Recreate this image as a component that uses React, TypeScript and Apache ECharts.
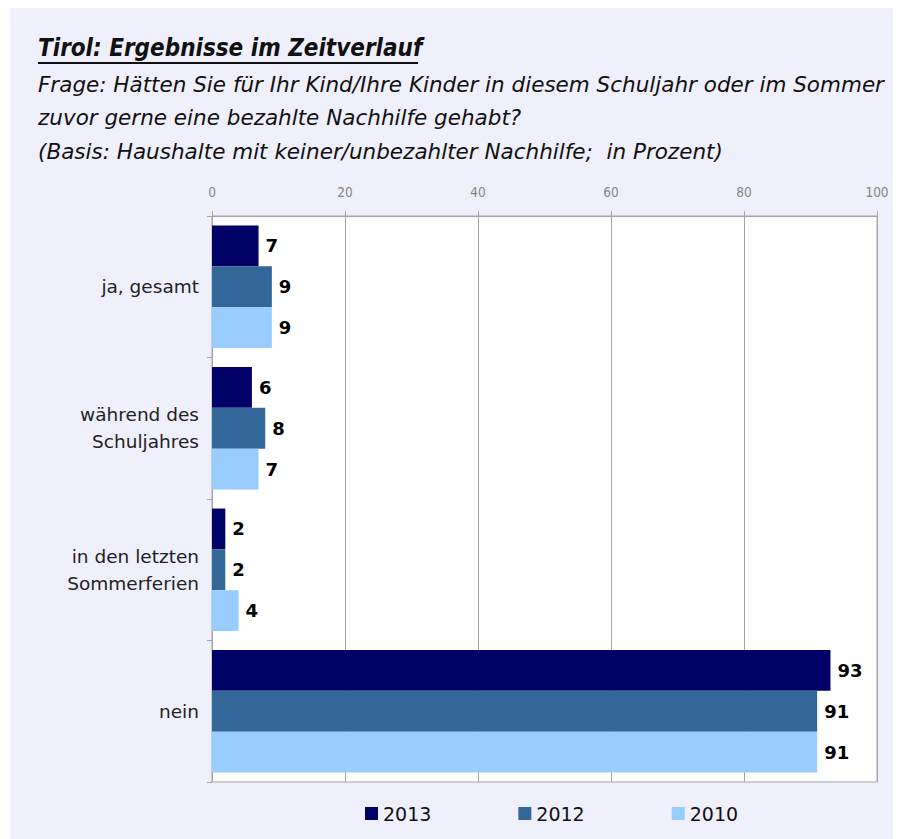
import React, { useEffect, useRef } from "react";
import * as echarts from "echarts";

const categories = ["ja, gesamt", "während des\nSchuljahres", "in den letzten\nSommerferien", "nein"];
const seriesNames = ["2013", "2012", "2010"];
const values2013 = [7, 6, 2, 93];
const values2012 = [9, 8, 2, 91];
const values2010 = [9, 7, 4, 91];
const colors = ["#000066", "#336699", "#99ccff"];
const titleText = "Tirol: Ergebnisse im Zeitverlauf";
const subtitleLines = [
  "Frage: Hätten Sie für Ihr Kind/Ihre Kinder in diesem Schuljahr oder im Sommer",
  "zuvor gerne eine bezahlte Nachhilfe gehabt?",
  "(Basis: Haushalte mit keiner/unbezahlter Nachhilfe;  in Prozent)",
];

export default function App() {
  const ref = useRef<HTMLDivElement>(null);
  useEffect(() => {
    if (!ref.current) return;
    const chart = echarts.init(ref.current, null, { renderer: "svg" });
    const allValues = [values2013, values2012, values2010];
    const titleFont = "'DejaVu Sans Condensed', 'DejaVu Sans', sans-serif";
    chart.setOption({
      animation: false,
      backgroundColor: "#f0f0fd",
      graphic: [
        {
          type: "text",
          left: 28,
          top: 28,
          style: {
            text: titleText,
            font: `italic bold 24px ${titleFont}`,
            fill: "#111",
          },
        },
        {
          type: "line",
          shape: { x1: 28, y1: 55, x2: 408, y2: 55 },
          style: { stroke: "#111", lineWidth: 2 },
        },
        ...subtitleLines.map((t, i) => ({
          type: "text",
          left: 28,
          top: 65 + i * 33.5,
          style: {
            text: t,
            font: `italic 21.5px 'DejaVu Sans', sans-serif`,
            fill: "#111",
          },
        })),
      ],
      grid: {
        left: 202,
        top: 208,
        right: 24,
        bottom: 57,
        show: true,
        backgroundColor: "#ffffff",
        borderColor: "#a6a6a6",
        borderWidth: 1,
      },
      legend: {
        data: seriesNames,
        left: 350,
        top: 791,
        itemWidth: 13,
        itemHeight: 13,
        itemGap: 87,
        icon: "rect",
        textStyle: { fontFamily: "DejaVu Sans", fontSize: 19, color: "#111" },
      },
      xAxis: {
        type: "value",
        position: "top",
        min: 0,
        max: 100,
        interval: 20,
        axisLine: { show: true, lineStyle: { color: "#a6a6a6" } },
        axisTick: { show: true, length: 5, lineStyle: { color: "#a6a6a6" } },
        axisLabel: {
          color: "#858585",
          fontFamily: "'Liberation Sans Narrow', 'DejaVu Sans Condensed', sans-serif",
          fontSize: 13.5,
          margin: 17,
        },
        splitLine: { show: true, lineStyle: { color: "#a6a6a6" } },
      },
      yAxis: {
        type: "category",
        inverse: true,
        data: categories,
        axisLine: { show: true, lineStyle: { color: "#a6a6a6" } },
        axisTick: { show: true, length: 5, lineStyle: { color: "#a6a6a6" } },
        axisLabel: {
          color: "#222",
          fontFamily: "DejaVu Sans",
          fontSize: 18.5,
          lineHeight: 27,
          margin: 13,
          align: "right",
        },
      },
      series: seriesNames.map((name, i) => ({
        name,
        type: "bar",
        data: allValues[i],
        barGap: "0%",
        barCategoryGap: "13.5%",
        itemStyle: { color: colors[i] },
        label: {
          show: true,
          position: "right",
          distance: 7,
          color: "#000",
          fontFamily: "DejaVu Sans",
          fontWeight: "bold",
          fontSize: 18,
        },
      })),
    });
    return () => chart.dispose();
  }, []);
  return <div ref={ref} style={{ width: 891, height: 831, marginLeft: 2 }} />;
}
